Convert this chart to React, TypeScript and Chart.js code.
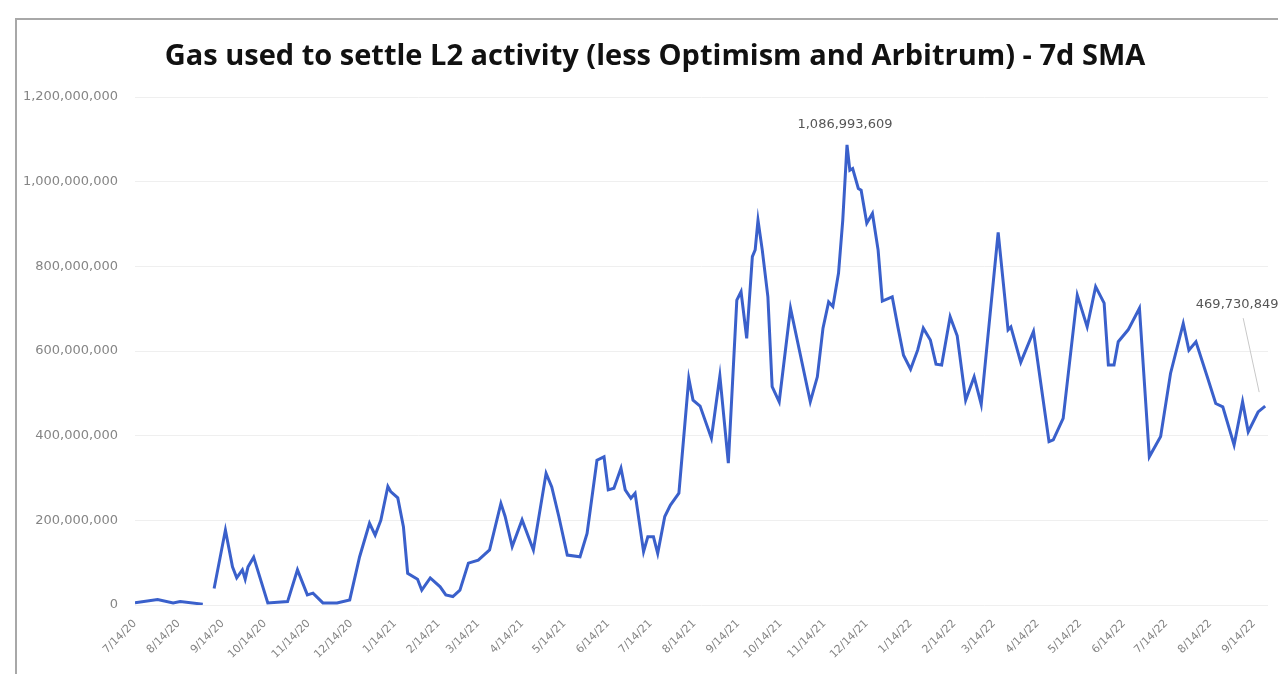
import React, { useEffect, useRef } from "react";
import { Chart, registerables } from "chart.js";

Chart.register(...registerables);

const chartTitle =
  "Gas used to settle L2 activity (less Optimism and Arbitrum) - 7d SMA";

// Series starts on 7/14/20; x positions are days since that date.
const startDate = "7/14/20";

const tickLabels = [
  "7/14/20", "8/14/20", "9/14/20", "10/14/20", "11/14/20", "12/14/20",
  "1/14/21", "2/14/21", "3/14/21", "4/14/21", "5/14/21", "6/14/21",
  "7/14/21", "8/14/21", "9/14/21", "10/14/21", "11/14/21", "12/14/21",
  "1/14/22", "2/14/22", "3/14/22", "4/14/22", "5/14/22", "6/14/22",
  "7/14/22", "8/14/22", "9/14/22",
];

const yTickValues = [0, 200000000, 400000000, 600000000, 800000000, 1000000000, 1200000000];

// Days since 7/14/20
const dayOffsets = [
  0, 16, 27, 32, 48, 52, 56, 64, 69, 72, 76, 78, 80, 84, 94, 108, 115, 122,
  126, 133, 143, 152, 159, 166, 170, 174, 179, 181, 186, 190, 193, 200, 203,
  209, 216, 220, 225, 230, 236, 243, 251, 259, 262, 267, 274, 282, 291, 295,
  300, 306, 315, 320, 327, 332, 335, 339, 344, 347, 351, 354, 360, 363, 367,
  370, 375, 379, 385, 392, 395, 400, 408, 414, 420, 426, 429, 433, 437, 439,
  441, 444, 448, 451, 456, 464, 478, 483, 487, 491, 494, 498, 501, 504, 506,
  508, 512, 514, 518, 522, 526, 529, 536, 540, 544, 549, 554, 558, 563, 567,
  571, 577, 582, 588, 594, 599, 611, 618, 620, 627, 636, 647, 650, 657, 667,
  674, 680, 686, 689, 693, 696, 703, 711, 718, 726, 733, 742, 746, 751, 759,
  765, 770, 778, 784, 788, 795, 800,
];

// Gas used (7-day simple moving average); null marks missing days
const gasUsed: (number | null)[] = [
  5000000, 13000000, 5000000, 8000000, 2000000, null, 39000000, 177000000,
  90000000, 64000000, 83000000, 61000000, 90000000, 113000000, 5000000,
  8000000, 83000000, 24000000, 28000000, 5000000, 5000000, 12000000,
  114000000, 193000000, 165000000, 200000000, 280000000, 268000000,
  253000000, 185000000, 75000000, 61000000, 35000000, 64000000, 43000000,
  24000000, 20000000, 35000000, 99000000, 106000000, 130000000, 240000000,
  209000000, 138000000, 201000000, 130000000, 311000000, 279000000,
  209000000, 118000000, 114000000, 169000000, 342000000, 350000000,
  272000000, 276000000, 323000000, 272000000, 252000000, 264000000,
  126000000, 161000000, 161000000, 122000000, 209000000, 236000000,
  264000000, 535000000, 484000000, 470000000, 394000000, 541000000,
  335000000, 720000000, 740000000, 630000000, 823000000, 839000000,
  909000000, 839000000, 728000000, 516000000, 480000000, 701000000,
  480000000, 539000000, 654000000, 716000000, 705000000, 784000000,
  909000000, 1086993609, 1027000000, 1031000000, 984000000, 980000000,
  902000000, 925000000, 839000000, 718000000, 728000000, 657000000,
  590000000, 557000000, 602000000, 654000000, 626000000, 569000000,
  567000000, 681000000, 636000000, 484000000, 539000000, 474000000,
  880000000, 650000000, 657000000, 573000000, 646000000, 386000000,
  390000000, 441000000, 732000000, 657000000, 752000000, 713000000,
  567000000, 567000000, 622000000, 650000000, 701000000, 350000000,
  398000000, 547000000, 665000000, 602000000, 622000000, 539000000,
  476000000, 468000000, 378000000, 480000000, 409000000, 456000000,
  469730849,
];

// Points that carry a data label: the all-time high and the latest value
const peakDay = 504;
const latestDay = 800;

function toUTC(label: string): number {
  const [m, d, y] = label.split("/").map(Number);
  return Date.UTC(2000 + y, m - 1, d);
}

function daysSinceStart(label: string): number {
  return Math.round((toUTC(label) - toUTC(startDate)) / 86400000);
}

const formatNumber = (v: number) => Math.round(v).toLocaleString("en-US");

const labelFont = '13px "DejaVu Sans"';

// Title drawn above the plot, centred over the plot and axis labels
const titlePlugin = {
  id: "chartTitleText",
  afterDraw(chart: any) {
    const { ctx } = chart;
    ctx.save();
    ctx.font = 'bold 29px "Open Sans"';
    ctx.fillStyle = "#111111";
    ctx.textAlign = "center";
    ctx.textBaseline = "middle";
    ctx.fillText(chartTitle, 655, 57);
    ctx.restore();
  },
};

const pointLabelsPlugin = {
  id: "pointLabels",
  afterDatasetsDraw(chart: any) {
    const { ctx } = chart;
    const meta = chart.getDatasetMeta(0);
    ctx.save();
    ctx.font = labelFont;
    ctx.fillStyle = "#555555";
    ctx.textAlign = "center";
    ctx.textBaseline = "middle";

    const pi = dayOffsets.indexOf(peakDay);
    const peak = meta.data[pi];
    ctx.fillText(formatNumber(gasUsed[pi] as number), peak.x - 2, peak.y - 20);

    const li = dayOffsets.indexOf(latestDay);
    const last = meta.data[li];
    const lx = last.x - 28;
    const ly = last.y - 102;
    ctx.fillText(formatNumber(gasUsed[li] as number), lx, ly);
    ctx.strokeStyle = "#c8c8c8";
    ctx.lineWidth = 1;
    ctx.beginPath();
    ctx.moveTo(lx + 6, ly + 14);
    ctx.lineTo(last.x - 6, last.y - 14);
    ctx.stroke();
    ctx.restore();
  },
};

export default function App() {
  const canvasRef = useRef<HTMLCanvasElement | null>(null);

  useEffect(() => {
    const canvas = canvasRef.current;
    if (!canvas) return;
    const tickDays = tickLabels.map(daysSinceStart);
    const tickText: Record<number, string> = {};
    tickDays.forEach((d, i) => (tickText[d] = tickLabels[i]));

    const chart = new Chart(canvas, {
      type: "line",
      data: {
        datasets: [
          {
            data: dayOffsets.map((d, i) => ({ x: d, y: gasUsed[i] })),
            borderColor: "#3a60cb",
            borderWidth: 3,
            pointRadius: 0,
            tension: 0,
            spanGaps: false,
          } as any,
        ],
      },
      options: {
        responsive: false,
        animation: false,
        devicePixelRatio: 1,
        layout: { padding: { left: 0, right: 10, top: 97, bottom: 0 } },
        plugins: {
          legend: { display: false },
          tooltip: { enabled: false },
          title: { display: false },
        },
        scales: {
          x: {
            type: "linear",
            min: 0,
            max: 802,
            grid: { display: false },
            border: { display: false },
            afterBuildTicks: (scale: any) => {
              scale.ticks = tickDays.map((v) => ({ value: v }));
            },
            afterFit: (scale: any) => {
              scale.height = 69;
              scale.paddingLeft = 0;
              scale.paddingRight = 0;
            },
            ticks: {
              autoSkip: false,
              minRotation: 45,
              maxRotation: 45,
              padding: 4,
              color: "#858585",
              font: { family: "DejaVu Sans", size: 11 },
              callback: (v: any) => tickText[v as number] ?? "",
            },
          },
          y: {
            min: 0,
            max: 1200000000,
            afterBuildTicks: (scale: any) => {
              scale.ticks = yTickValues.map((v) => ({ value: v }));
            },
            afterFit: (scale: any) => {
              scale.width = 135;
              scale.paddingTop = 0;
            },
            grid: { color: "#efefef", drawTicks: false },
            border: { display: false },
            ticks: {
              padding: 17,
              color: "#858585",
              font: { family: "DejaVu Sans", size: 13 },
              callback: (v: any) => formatNumber(Number(v)),
            },
          },
        },
      },
      plugins: [pointLabelsPlugin, titlePlugin],
    });

    return () => chart.destroy();
  }, []);

  return (
    <div
      style={{
        position: "fixed",
        left: 0,
        top: 0,
        width: 1278,
        height: 674,
        background: "#ffffff",
        overflow: "hidden",
      }}
    >
      <div
        style={{
          position: "absolute",
          left: 15,
          top: 18,
          width: 1300,
          height: 700,
          borderTop: "2px solid #a8a8a8",
          borderLeft: "2px solid #a8a8a8",
        }}
      />
      <canvas
        ref={canvasRef}
        width={1278}
        height={674}
        style={{ position: "absolute", left: 0, top: 0, width: 1278, height: 674 }}
      />
    </div>
  );
}
